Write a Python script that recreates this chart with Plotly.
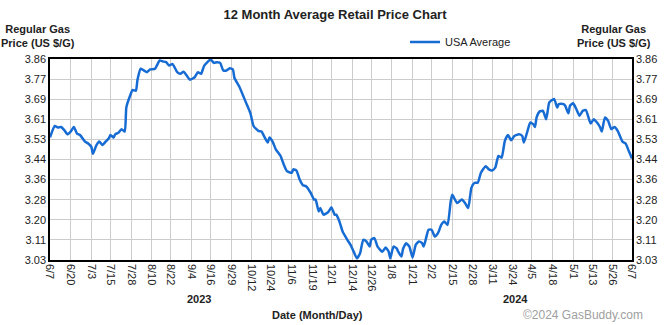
import plotly.graph_objects as go

dates = [
    "2023-06-07", "2023-06-10", "2023-06-12", "2023-06-14", "2023-06-16", "2023-06-18", "2023-06-20",
    "2023-06-22", "2023-06-24", "2023-06-26", "2023-06-29", "2023-07-01", "2023-07-03", "2023-07-04",
    "2023-07-06", "2023-07-08", "2023-07-10", "2023-07-12", "2023-07-14", "2023-07-15", "2023-07-17",
    "2023-07-18", "2023-07-20", "2023-07-22", "2023-07-24", "2023-07-25", "2023-07-27", "2023-07-29",
    "2023-07-31", "2023-08-01", "2023-08-03", "2023-08-05", "2023-08-07", "2023-08-09", "2023-08-12",
    "2023-08-15", "2023-08-17", "2023-08-19", "2023-08-21", "2023-08-23", "2023-08-26", "2023-08-28",
    "2023-08-30", "2023-09-01", "2023-09-03", "2023-09-06", "2023-09-08", "2023-09-10", "2023-09-12",
    "2023-09-16", "2023-09-18", "2023-09-20", "2023-09-22", "2023-09-24", "2023-09-26", "2023-09-28",
    "2023-09-30", "2023-10-01", "2023-10-04", "2023-10-08", "2023-10-11", "2023-10-13", "2023-10-16",
    "2023-10-18", "2023-10-20", "2023-10-22", "2023-10-23", "2023-10-25", "2023-10-27", "2023-10-30",
    "2023-11-01", "2023-11-03", "2023-11-06", "2023-11-07", "2023-11-09", "2023-11-11", "2023-11-13",
    "2023-11-15", "2023-11-18", "2023-11-20", "2023-11-21", "2023-11-23", "2023-11-24", "2023-11-26",
    "2023-11-29", "2023-12-01", "2023-12-03", "2023-12-04", "2023-12-06", "2023-12-08", "2023-12-11",
    "2023-12-13", "2023-12-15", "2023-12-17", "2023-12-19", "2023-12-21", "2023-12-23", "2023-12-25",
    "2023-12-26", "2023-12-28", "2023-12-30", "2024-01-02", "2024-01-04", "2024-01-06", "2024-01-07",
    "2024-01-09", "2024-01-11", "2024-01-12", "2024-01-14", "2024-01-15", "2024-01-17", "2024-01-19",
    "2024-01-21", "2024-01-23", "2024-01-25", "2024-01-27", "2024-01-28", "2024-01-30", "2024-01-31",
    "2024-02-02", "2024-02-04", "2024-02-06", "2024-02-08", "2024-02-10", "2024-02-12", "2024-02-14",
    "2024-02-15", "2024-02-18", "2024-02-21", "2024-02-23", "2024-02-25", "2024-02-27", "2024-02-29",
    "2024-03-02", "2024-03-04", "2024-03-07", "2024-03-09", "2024-03-11", "2024-03-13", "2024-03-15",
    "2024-03-17", "2024-03-19", "2024-03-21", "2024-03-23", "2024-03-25", "2024-03-28", "2024-03-30",
    "2024-03-31", "2024-04-02", "2024-04-04", "2024-04-06", "2024-04-07", "2024-04-08", "2024-04-10",
    "2024-04-12", "2024-04-14", "2024-04-15", "2024-04-16", "2024-04-19", "2024-04-21", "2024-04-22",
    "2024-04-25", "2024-04-26", "2024-04-28", "2024-04-29", "2024-05-01", "2024-05-03", "2024-05-05",
    "2024-05-07", "2024-05-09", "2024-05-12", "2024-05-14", "2024-05-16", "2024-05-18", "2024-05-19",
    "2024-05-21", "2024-05-23", "2024-05-25", "2024-05-27", "2024-05-29", "2024-06-01", "2024-06-03",
    "2024-06-05", "2024-06-07",
]

usa_average = [
    3.533, 3.580, 3.574, 3.576, 3.563, 3.546, 3.557,
    3.576, 3.549, 3.542, 3.516, 3.508, 3.494, 3.466,
    3.498, 3.516, 3.502, 3.516, 3.530, 3.543, 3.533,
    3.546, 3.552, 3.567, 3.557, 3.656, 3.698, 3.728,
    3.725, 3.769, 3.815, 3.808, 3.801, 3.812, 3.815,
    3.849, 3.845, 3.842, 3.828, 3.835, 3.801, 3.794,
    3.803, 3.787, 3.770, 3.780, 3.801, 3.794, 3.828,
    3.853, 3.839, 3.842, 3.839, 3.808, 3.808, 3.817,
    3.812, 3.777, 3.742, 3.680, 3.633, 3.580, 3.560,
    3.557, 3.533, 3.512, 3.533, 3.516, 3.484, 3.457,
    3.422, 3.395, 3.388, 3.402, 3.397, 3.360, 3.337,
    3.333, 3.305, 3.278, 3.278, 3.229, 3.243, 3.216,
    3.227, 3.246, 3.216, 3.216, 3.188, 3.147, 3.113,
    3.092, 3.064, 3.037, 3.058, 3.113, 3.106, 3.085,
    3.113, 3.120, 3.085, 3.064, 3.081, 3.064, 3.037,
    3.085, 3.078, 3.064, 3.044, 3.075, 3.099, 3.085,
    3.040, 3.092, 3.106, 3.099, 3.085, 3.133, 3.154,
    3.154, 3.126, 3.140, 3.174, 3.188, 3.174, 3.271,
    3.298, 3.264, 3.278, 3.264, 3.243, 3.326, 3.347,
    3.347, 3.388, 3.415, 3.402, 3.397, 3.409, 3.457,
    3.450, 3.518, 3.543, 3.521, 3.539, 3.546, 3.539,
    3.512, 3.553, 3.594, 3.587, 3.576, 3.615, 3.640,
    3.642, 3.608, 3.642, 3.677, 3.691, 3.656, 3.670,
    3.670, 3.663, 3.632, 3.663, 3.673, 3.649, 3.622,
    3.642, 3.645, 3.590, 3.608, 3.594, 3.574, 3.557,
    3.615, 3.601, 3.567, 3.576, 3.560, 3.516, 3.508,
    3.477, 3.447,
]

x_tick_dates = [
    "2023-06-07", "2023-06-20", "2023-07-03", "2023-07-15", "2023-07-28", "2023-08-10",
    "2023-08-22", "2023-09-04", "2023-09-16", "2023-09-29", "2023-10-12", "2023-10-24",
    "2023-11-06", "2023-11-19", "2023-12-01", "2023-12-14", "2023-12-26", "2024-01-08",
    "2024-01-21", "2024-02-02", "2024-02-15", "2024-02-28", "2024-03-11", "2024-03-24",
    "2024-04-05", "2024-04-18", "2024-05-01", "2024-05-13", "2024-05-26", "2024-06-07",
]
x_tick_labels = [
    "6/7", "6/20", "7/3", "7/15", "7/28", "8/10", "8/22", "9/4", "9/16", "9/29",
    "10/12", "10/24", "11/6", "11/19", "12/1", "12/14", "12/26", "1/8", "1/21", "2/2",
    "2/15", "2/28", "3/11", "3/24", "4/5", "4/18", "5/1", "5/13", "5/26", "6/7",
]

y_tick_values = [3.03, 3.1125, 3.195, 3.2775, 3.36, 3.4425, 3.525, 3.6075, 3.69, 3.7725, 3.855]
y_tick_labels = ["3.03", "3.11", "3.20", "3.28", "3.36", "3.44", "3.53", "3.61", "3.69", "3.77", "3.86"]

FONT = "Liberation Sans, Arial, sans-serif"
LINE_COLOR = "#176cd4"

fig = go.Figure()
fig.add_trace(go.Scatter(
    x=dates, y=usa_average, mode="lines", name="USA Average",
    line=dict(color=LINE_COLOR, width=2.5, shape="spline", smoothing=0.5), yaxis="y",
))
fig.add_trace(go.Scatter(
    x=dates, y=usa_average, mode="lines", showlegend=False, hoverinfo="skip",
    line=dict(color="rgba(0,0,0,0)", width=0), yaxis="y2",
))

axis_common = dict(
    showgrid=True, gridcolor="#cccccc", gridwidth=1,
    showline=True, linecolor="black", linewidth=1.5,
    zeroline=False, ticks="",
    tickfont=dict(family=FONT, size=11, color="#222222"),
)

fig.update_layout(
    width=670, height=325,
    margin=dict(l=50, r=38, t=59, b=65),
    paper_bgcolor="white", plot_bgcolor="white",
    font=dict(family=FONT, size=11, color="#222222"),
    title=dict(text="<b>12 Month Average Retail Price Chart</b>", x=0.5, xref="container",
               y=0.955, yref="container", xanchor="center", yanchor="middle",
               font=dict(family=FONT, size=13, color="#222222")),
    xaxis=dict(
        **axis_common,
        type="date",
        range=["2023-06-07", "2024-06-07"],
        tickmode="array", tickvals=x_tick_dates, ticktext=x_tick_labels,
        tickangle=90, mirror=True,
    ),
    yaxis=dict(
        **axis_common,
        range=[3.03, 3.855],
        tickmode="array", tickvals=y_tick_values, ticktext=y_tick_labels,
        mirror=True,
    ),
    yaxis2=dict(
        **axis_common,
        overlaying="y", side="right", matches="y",
        tickmode="array", tickvals=y_tick_values, ticktext=y_tick_labels,
    ),
    showlegend=True,
    legend=dict(x=0.61, y=1.085, xanchor="left", yanchor="middle", orientation="h",
                bgcolor="rgba(0,0,0,0)", font=dict(family=FONT, size=11, color="#222222"),
                itemwidth=30),
)

annotations = [
    dict(text="<b>Regular Gas<br>Price (US $/G)</b>", x=-0.021, y=1.114, xanchor="center", yanchor="middle"),
    dict(text="<b>Regular Gas<br>Price (US $/G)</b>", x=0.969, y=1.114, xanchor="center", yanchor="middle"),
    dict(text="<b>2023</b>", x=0.256, y=-0.194, xanchor="center", yanchor="middle"),
    dict(text="<b>2024</b>", x=0.799, y=-0.194, xanchor="center", yanchor="middle"),
    dict(text="<b>Date (Month/Day)</b>", x=0.46, y=-0.274, xanchor="center", yanchor="middle"),
]
for a in annotations:
    fig.add_annotation(xref="paper", yref="paper", showarrow=False,
                       font=dict(family=FONT, size=11, color="#222222"), **a)
fig.add_annotation(xref="paper", yref="paper", showarrow=False, text="©2024 GasBuddy.com",
                   x=0.916, y=-0.274, xanchor="center", yanchor="middle",
                   font=dict(family=FONT, size=12, color="#a0a0a0"))

fig.write_html("out.html")
